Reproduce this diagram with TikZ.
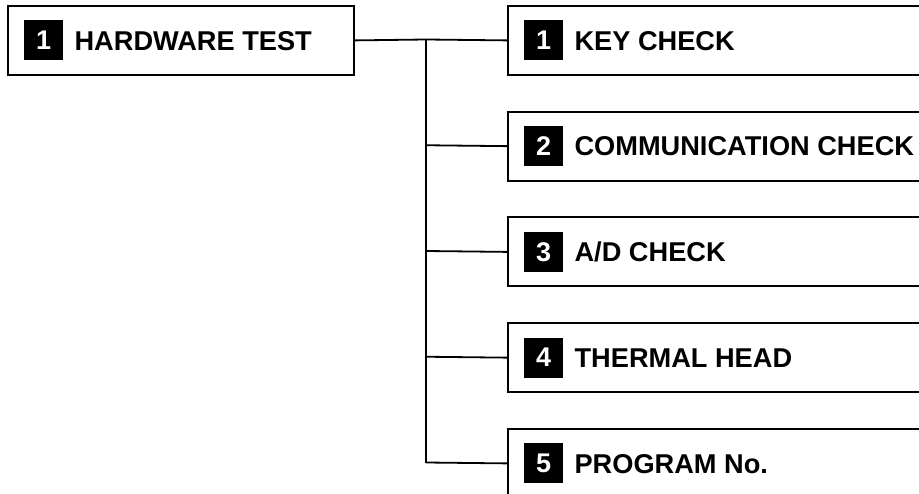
\documentclass[tikz,border=0pt]{standalone}
\usepackage{fontspec}
\setmainfont{Liberation Sans}
\usetikzlibrary{positioning}
\tikzset{
  menubox/.style={draw,line width=1.8pt,minimum width=#1,minimum height=69pt,inner sep=0pt,anchor=north west},
  numsq/.style={fill=black,text=white,minimum width=39pt,minimum height=40pt,inner sep=0pt,font=\fontsize{27}{27}\selectfont\bfseries},
  lbl/.style={font=\fontsize{27.2}{28}\selectfont\bfseries,inner sep=0pt,text height=19.5pt,text depth=0pt},
  link/.style={line width=1.8pt}
}
\begin{document}
\begin{tikzpicture}[x=1pt,y=-1pt]
\clip (0,0) rectangle (919,494);
% main item
\node[menubox=346pt] (hw) at (7,5) {};
\node[numsq,anchor=west] (hwn) at ([xshift=17pt]hw.west) {1};
\node[lbl,right=11pt of hwn] (hwt) {HARDWARE TEST};
% sub items
\foreach \i/\txt in {1/{KEY CHECK},2/{COMMUNICATION CHECK},3/{A/D CHECK},4/{THERMAL HEAD},5/{PROGRAM No.}}{
  \node[menubox=450pt] (b\i) at (507,{5+(\i-1)*105.75}) {};
  \node[numsq,anchor=west] (n\i) at ([xshift=17pt]b\i.west) {\i};
  \node[lbl,right=11pt of n\i] (t\i) {\txt};
  \coordinate (j\i) at (426,{39.5+(\i-1)*105.75});
  \draw[link] (j\i) -- (b\i.west);
}
\draw[link] (hw.east) -- (j1);
\draw[link] (j1) -- (j5);
\end{tikzpicture}
\end{document}
